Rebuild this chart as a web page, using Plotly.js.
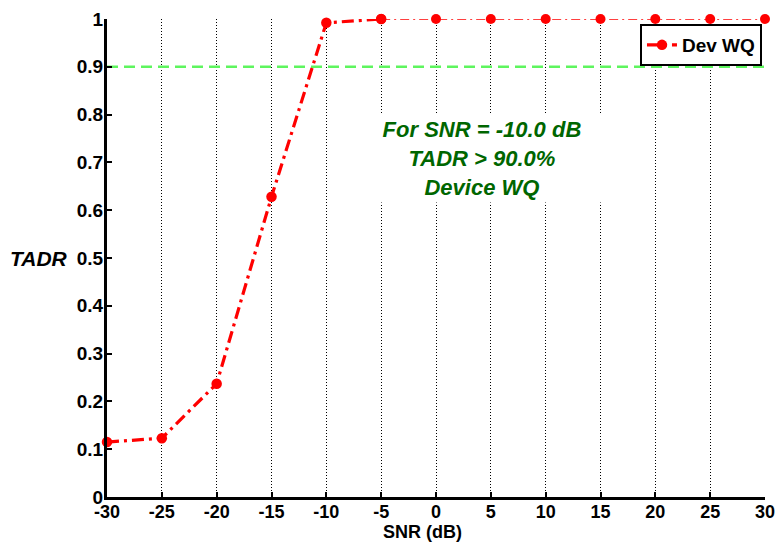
<!DOCTYPE html>
<html>
<head>
<meta charset="utf-8">
<script src="https://cdn.plot.ly/plotly-3.0.1.min.js"></script>
<style>
  html, body { margin: 0; padding: 0; background: #fff; }
  #chart { width: 777px; height: 542px; }
</style>
</head>
<body>
<div id="chart"></div>
<script>
// SNR sweep (dB) and measured TADR for device WQ
const snr = [-30, -25, -20, -15, -10, -5, 0, 5, 10, 15, 20, 25, 30];
const tadr = [0.115, 0.123, 0.237, 0.628, 0.992, 1.0, 1.0, 1.0, 1.0, 1.0, 1.0, 1.0, 1.0];
const threshold = 0.9;
const xTickVals = [-30, -25, -20, -15, -10, -5, 0, 5, 10, 15, 20, 25, 30];
const xTickText = ['-30', '-25', '-20', '-15', '-10', '-5', '0', '5', '10', '15', '20', '25', '30'];
const seriesName = 'Dev WQ';
const noteLines = ['For SNR = -10.0 dB', 'TADR > 90.0%', 'Device WQ'];

const FONT = 'Liberation Sans, Arial, Helvetica, sans-serif';
const split = snr.indexOf(-5);

const traces = [
  {
    x: [snr[0], snr[snr.length - 1]],
    y: [threshold, threshold],
    mode: 'lines',
    line: { color: '#5ef55e', width: 2.5, dash: '11px,6px' },
    showlegend: false,
    hoverinfo: 'skip'
  },
  {
    x: snr.slice(split),
    y: tadr.slice(split),
    mode: 'lines+markers',
    line: { color: '#ff0000', width: 1.5, dash: '9px,4px,2px,4px' },
    marker: { color: '#ff0000', size: 10 },
    showlegend: false,
    cliponaxis: false
  },
  {
    x: snr.slice(0, split + 1),
    y: tadr.slice(0, split + 1),
    name: seriesName,
    mode: 'lines+markers',
    line: { color: '#ff0000', width: 3.2, dash: '12px,5px,3px,5px' },
    marker: { color: '#ff0000', size: 10.5 },
    cliponaxis: false
  }
];

const layout = {
  width: 777,
  height: 542,
  margin: { l: 107, r: 12, t: 19, b: 45 },
  paper_bgcolor: '#ffffff',
  plot_bgcolor: '#ffffff',
  font: { family: FONT, size: 19, color: '#000', weight: 'bold' },
  showlegend: true,
  legend: {
    x: 0.9954, y: 0.9895, xanchor: 'right', yanchor: 'top',
    bgcolor: '#ffffff', bordercolor: '#000', borderwidth: 2,
    font: { family: FONT, size: 19, color: '#000', weight: 'bold' },
    itemwidth: 30, tracegroupgap: 0
  },
  xaxis: {
    range: [-30, 30],
    tickmode: 'array', tickvals: xTickVals, ticktext: xTickText,
    ticks: 'inside', ticklen: 5, tickwidth: 2, tickcolor: '#000',
    ticklabelstandoff: -4,
    showline: true, linewidth: 3, linecolor: '#000', mirror: false,
    showgrid: true, gridcolor: '#000', gridwidth: 1, griddash: '1px,2px',
    zeroline: false,
    tickfont: { family: FONT, size: 18, color: '#000', weight: 'bold' },
    fixedrange: true
  },
  yaxis: {
    range: [0, 1], dtick: 0.1, tick0: 0,
    ticks: 'inside', ticklen: 5, tickwidth: 2, tickcolor: '#000',
    ticklabelstandoff: -3,
    showline: true, linewidth: 3, linecolor: '#000', mirror: false,
    showgrid: false, zeroline: false,
    tickfont: { family: FONT, size: 19, color: '#000', weight: 'bold' },
    fixedrange: true
  },
  annotations: [
    {
      text: noteLines.join('<br>'),
      xref: 'x', yref: 'y', x: 4.2, y: 0.708,
      xanchor: 'center', yanchor: 'middle',
      showarrow: false, align: 'center',
      width: 246, height: 87, borderpad: 0,
      bgcolor: '#ffffff',
      font: { family: FONT, size: 22, color: '#006600', weight: 'bold', style: 'italic' }
    },
    {
      text: 'TADR',
      xref: 'paper', yref: 'paper', x: -0.104, y: 0.5,
      xanchor: 'center', yanchor: 'middle', showarrow: false,
      font: { family: FONT, size: 21, color: '#000', weight: 'bold', style: 'italic' }
    },
    {
      text: 'SNR (dB)',
      xref: 'paper', yref: 'paper', x: 0.479, y: -0.0732,
      xanchor: 'center', yanchor: 'middle', showarrow: false,
      font: { family: FONT, size: 18, color: '#000', weight: 'bold' }
    }
  ]
};

Plotly.newPlot('chart', traces, layout, { displayModeBar: false, staticPlot: true });
</script>
</body>
</html>
